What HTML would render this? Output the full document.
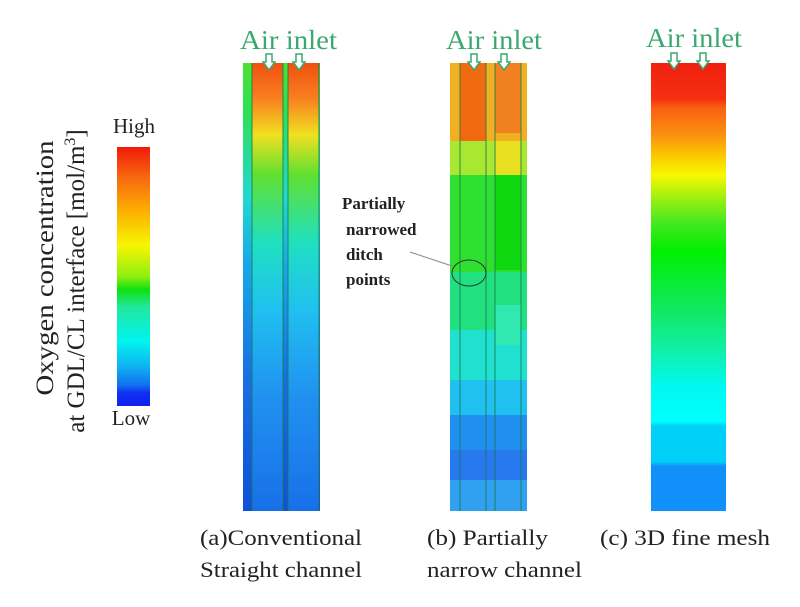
<!DOCTYPE html>
<html><head><meta charset="utf-8"><style>
html,body{margin:0;padding:0;background:#fff;}
svg{display:block;}
text{font-family:"Liberation Serif",serif;}
</style></head><body>
<svg width="800" height="607" viewBox="0 0 800 607" xmlns="http://www.w3.org/2000/svg">
<defs>
<linearGradient id="cb" x1="0" y1="0" x2="0" y2="1">
<stop offset="0" stop-color="#f21a0a"/><stop offset="0.12" stop-color="#f86a10"/>
<stop offset="0.25" stop-color="#fcb000"/><stop offset="0.38" stop-color="#f6f600"/>
<stop offset="0.5" stop-color="#90ee10"/><stop offset="0.55" stop-color="#10e010"/>
<stop offset="0.62" stop-color="#20e8a0"/><stop offset="0.75" stop-color="#00f4f0"/>
<stop offset="0.85" stop-color="#10b0f0"/><stop offset="0.92" stop-color="#1070f0"/>
<stop offset="0.95" stop-color="#1030f0"/><stop offset="1" stop-color="#1020f0"/>
</linearGradient>
<linearGradient id="ar" x1="0" y1="0" x2="0" y2="1">
<stop offset="0" stop-color="#50e030"/><stop offset="0.1" stop-color="#30e050"/>
<stop offset="0.3" stop-color="#20d8d0"/><stop offset="0.45" stop-color="#18a8e8"/>
<stop offset="0.7" stop-color="#1870e0"/><stop offset="1" stop-color="#1050d8"/>
</linearGradient>
<linearGradient id="ac" x1="0" y1="0" x2="0" y2="1">
<stop offset="0" stop-color="#f05010"/><stop offset="0.08" stop-color="#f88020"/>
<stop offset="0.16" stop-color="#f0e020"/><stop offset="0.25" stop-color="#60e030"/>
<stop offset="0.4" stop-color="#20e0c0"/><stop offset="0.55" stop-color="#20c0f0"/>
<stop offset="0.75" stop-color="#2090f0"/><stop offset="1" stop-color="#1870e8"/>
</linearGradient>
<linearGradient id="cc" x1="0" y1="0" x2="0" y2="1">
<stop offset="0" stop-color="#f02010"/><stop offset="0.08" stop-color="#f43010"/>
<stop offset="0.1" stop-color="#fa6010"/><stop offset="0.16" stop-color="#fa9010"/>
<stop offset="0.2" stop-color="#fcc000"/><stop offset="0.25" stop-color="#f8f800"/>
<stop offset="0.3" stop-color="#a0f010"/><stop offset="0.36" stop-color="#40e820"/>
<stop offset="0.42" stop-color="#00f000"/><stop offset="0.55" stop-color="#10e860"/>
<stop offset="0.65" stop-color="#10f0b0"/><stop offset="0.72" stop-color="#00f8f0"/>
<stop offset="0.8" stop-color="#00ffff"/><stop offset="0.81" stop-color="#00d0f8"/>
<stop offset="0.89" stop-color="#00d0f8"/><stop offset="0.9" stop-color="#1090f8"/>
<stop offset="1" stop-color="#1090f8"/>
</linearGradient>
</defs>

<rect x="117" y="147" width="33" height="259" fill="url(#cb)"/>
<text x="134" y="133" font-size="21" text-anchor="middle" fill="#222">High</text>
<text x="131" y="425" font-size="21" text-anchor="middle" fill="#222">Low</text>
<text transform="translate(53,268) rotate(-90)" font-size="25" text-anchor="middle" textLength="255" lengthAdjust="spacingAndGlyphs" fill="#222">Oxygen concentration</text>
<text transform="translate(84,281) rotate(-90)" font-size="25" text-anchor="middle" fill="#222">at GDL/CL interface [mol/m<tspan font-size="16" dy="-9">3</tspan><tspan dy="9">]</tspan></text>

<rect x="243" y="63" width="77" height="448" fill="url(#ar)"/>
<rect x="252" y="63" width="31" height="448" fill="url(#ac)"/>
<rect x="288" y="63" width="31" height="448" fill="url(#ac)"/>
<g stroke="#1a7a50" stroke-width="1.2" opacity="0.7">
<line x1="252" y1="63" x2="252" y2="511"/><line x1="283" y1="63" x2="283" y2="511"/>
<line x1="288" y1="63" x2="288" y2="511"/><line x1="319" y1="63" x2="319" y2="511"/>
</g>

<g>
<rect x="450" y="63" width="77" height="78" fill="#f0b020"/>
<rect x="460" y="63" width="26" height="78" fill="#f26a10"/>
<rect x="495" y="63" width="26" height="70" fill="#f08020"/>
<rect x="450" y="141" width="77" height="34" fill="#a8e830"/>
<rect x="495" y="141" width="26" height="34" fill="#e8e020"/>
<rect x="450" y="175" width="77" height="97" fill="#30e030"/>
<rect x="495" y="175" width="26" height="95" fill="#10d810"/>
<rect x="450" y="272" width="77" height="58" fill="#20e080"/>
<rect x="450" y="330" width="77" height="50" fill="#20e0d0"/>
<rect x="495" y="305" width="26" height="40" fill="#30e8b0"/>
<rect x="450" y="380" width="77" height="35" fill="#20c0f0"/>
<rect x="450" y="415" width="77" height="35" fill="#2090f0"/>
<rect x="450" y="450" width="77" height="30" fill="#2878f0"/>
<rect x="450" y="480" width="77" height="31" fill="#30a0f0"/>
<g stroke="#1a7a50" stroke-width="1.2" fill="none" opacity="0.7">
<line x1="460" y1="63" x2="460" y2="511"/><line x1="486" y1="63" x2="486" y2="511"/>
<line x1="495" y1="63" x2="495" y2="511"/><line x1="521" y1="63" x2="521" y2="511"/>
</g>
<ellipse cx="469" cy="273" rx="17" ry="13" fill="none" stroke="#333" stroke-width="1"/>
<line x1="410" y1="252" x2="452" y2="266" stroke="#888" stroke-width="1"/>
</g>
<g font-size="17" font-weight="bold" fill="#222">
<text x="342" y="209">Partially</text>
<text x="346" y="235">narrowed</text>
<text x="346" y="260">ditch</text>
<text x="346" y="285">points</text>
</g>

<rect x="651" y="63" width="75" height="448" fill="url(#cc)"/>

<g font-size="27" fill="#3aa870" lengthAdjust="spacingAndGlyphs">
<text x="240" y="49" textLength="97" lengthAdjust="spacingAndGlyphs">Air inlet</text>
<text x="446" y="49" textLength="96" lengthAdjust="spacingAndGlyphs">Air inlet</text>
<text x="646" y="47" textLength="96" lengthAdjust="spacingAndGlyphs">Air inlet</text>
</g>
<g fill="#fff" stroke="#3aa870" stroke-width="1.5">
<path d="M266,54 h6 v8 h3 l-6,8 l-6,-8 h3z"/>
<path d="M296,54 h6 v8 h3 l-6,8 l-6,-8 h3z"/>
<path d="M471,54 h6 v8 h3 l-6,8 l-6,-8 h3z"/>
<path d="M501,54 h6 v8 h3 l-6,8 l-6,-8 h3z"/>
<path d="M671,53 h6 v8 h3 l-6,8 l-6,-8 h3z"/>
<path d="M700,53 h6 v8 h3 l-6,8 l-6,-8 h3z"/>
</g>

<g font-size="22" fill="#222">
<text x="200" y="545" textLength="162" lengthAdjust="spacingAndGlyphs">(a)Conventional</text>
<text x="200" y="577" textLength="162" lengthAdjust="spacingAndGlyphs">Straight channel</text>
<text x="427" y="545" textLength="121" lengthAdjust="spacingAndGlyphs">(b) Partially</text>
<text x="427" y="577" textLength="155" lengthAdjust="spacingAndGlyphs">narrow channel</text>
<text x="600" y="545" textLength="170" lengthAdjust="spacingAndGlyphs">(c) 3D fine mesh</text>
</g>
</svg>
</body></html>
